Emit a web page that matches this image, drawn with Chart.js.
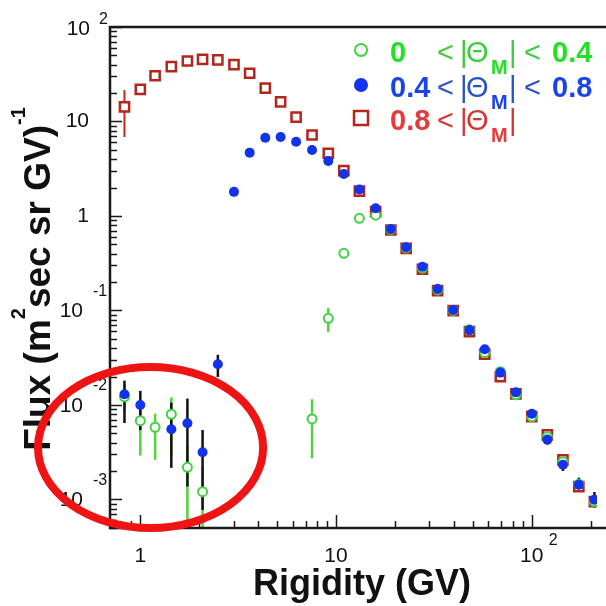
<!DOCTYPE html>
<html>
<head>
<meta charset="utf-8">
<script src="https://cdn.jsdelivr.net/npm/chart.js@4.4.0/dist/chart.umd.min.js"></script>
<style>
  body { margin: 0; background: #fff; }
  #wrap { width: 606px; height: 606px; }
</style>
</head>
<body>
<div id="wrap"><canvas id="fluxChart" width="606" height="606"></canvas></div>
<script>
// rigidity bin centres (GV)
const rigidity = [0.83, 1.00, 1.19, 1.44, 1.74, 2.08, 2.49, 3.01, 3.62, 4.35, 5.21, 6.25, 7.54, 9.13, 10.96,
  13.16, 15.94, 19.06, 22.82, 27.62, 33.03, 39.67, 48.04, 57.51, 69.08, 82.97, 100.0, 120.1, 144.3, 173.9, 208.9];

// 0 < |ThetaM| < 0.4 (green open circles)
const fluxLow = [0.0122, 0.00682, 0.00581, 0.00798, 0.00219, 0.00121, null, null, null, null, null, null, 0.00711, 0.0827, 0.403,
  0.946, 1.02, 0.72, 0.46, 0.28, 0.165, 0.100, 0.0625, 0.036, 0.0225, 0.0128, 0.0075, 0.0046, 0.0025, 0.00145, 0.00095];
const fluxLowErrLo = [0.0085, 0.00291, 0.00263, 0.0030, 0.0002, 0.0002, null, null, null, null, null, null, 0.00272, 0.0593, null,
  null, null, null, null, null, null, null, null, null, null, null, null, null, null, null, null];
const fluxLowErrHi = [0.0165, 0.00962, 0.00811, 0.0120, 0.00378, 0.0022, null, null, null, null, null, null, 0.0115, 0.106, null,
  null, null, null, null, null, null, null, null, null, null, null, null, null, null, null, null];

// 0.4 < |ThetaM| < 0.8 (blue dots)
const fluxMid = [0.0130, 0.0100, null, 0.00553, 0.00640, 0.00316, 0.0270, 1.80, 4.68, 6.74, 6.85, 6.11, 4.99, 3.82, 2.78,
  1.91, 1.21, 0.729, 0.466, 0.290, 0.169, 0.101, 0.0620, 0.0388, 0.0220, 0.0136, 0.00808, 0.00430, 0.00233, 0.00143, 0.000993];
const fluxMidErrLo = [0.00645, 0.00542, null, 0.00216, 0.00137, 0.000776, 0.0198, null, null, null, null, null, null, null, null,
  null, null, null, null, null, null, null, null, null, null, null, 0.0072, 0.0038, 0.0020, 0.0012, 0.00082];
const fluxMidErrHi = [0.0181, 0.0141, null, 0.0106, 0.0117, 0.00543, 0.0340, null, null, null, null, null, null, null, null,
  null, null, null, null, null, null, null, null, null, null, null, 0.0090, 0.0049, 0.0027, 0.0017, 0.0012];

// 0.8 < |ThetaM| (red open squares)
const fluxHigh = [14.3, 21.9, 30.5, 38.0, 43.7, 45.5, 44.8, 39.9, 32.4, 22.5, 16.1, 11.1, 7.20, 4.61, 3.02,
  1.83, 1.11, 0.711, 0.455, 0.273, 0.162, 0.0995, 0.0597, 0.0344, 0.0199, 0.0131, 0.00752, 0.00482, 0.00262, 0.00137, 0.000948];
const fluxHighErrLo = [6.85];
const fluxHighErrHi = [21.5];

// axis ticks
const yTickValues = [100, 10, 1, 0.1, 0.01, 0.001];
const yTickBase = ['10', '10', '1', '10', '10', '10'];
const yTickExp = ['2', '', '', '-1', '-2', '-3'];
const xTickValues = [1, 10, 100];
const xTickBase = ['1', '10', '10'];
const xTickExp = ['', '', '2'];

// the red ring round the low rigidity points (data coords)
const ringX = [0.30, 4.24];
const ringY = [0.000499, 0.0252];

const GREEN = '#3fd43f';
const BLUE = '#1232ec';
const RED = '#b3261c';

function toPoints(vals) {
  return rigidity.map((x, i) => ({ x: x, y: vals[i] })).filter(p => p.y !== null && p.y !== undefined);
}

function drawBars(chart, lo, hi, color, width) {
  const ctx = chart.ctx;
  const xs = chart.scales.x, ys = chart.scales.y;
  ctx.save();
  ctx.strokeStyle = color;
  ctx.lineWidth = width;
  lo.forEach((l, i) => {
    if (l === null || hi[i] === null) return;
    const px = xs.getPixelForValue(rigidity[i]);
    ctx.beginPath();
    ctx.moveTo(px, ys.getPixelForValue(l));
    ctx.lineTo(px, ys.getPixelForValue(hi[i]));
    ctx.stroke();
  });
  ctx.restore();
}

const decor = {
  id: 'decor',
  beforeDatasetsDraw(chart) {
    const a = chart.chartArea;
    const ctx = chart.ctx;
    ctx.save();
    ctx.beginPath();
    ctx.rect(a.left, a.top, a.right - a.left, a.bottom - a.top);
    ctx.clip();
    drawBars(chart, fluxHighErrLo, fluxHighErrHi, '#c0281e', 2);
    drawBars(chart, fluxLowErrLo, fluxLowErrHi, '#4fd63a', 2.5);
    drawBars(chart, fluxMidErrLo, fluxMidErrHi, '#111', 2.5);
    ctx.restore();
  },
  afterDatasetsDraw(chart) {
    const ctx = chart.ctx;
    const a = chart.chartArea;
    const xs = chart.scales.x, ys = chart.scales.y;

    // frame
    ctx.save();
    ctx.strokeStyle = '#1a1a1a';
    ctx.lineWidth = 2.5;
    ctx.beginPath();
    ctx.moveTo(606, a.top);
    ctx.lineTo(a.left, a.top);
    ctx.lineTo(a.left, a.bottom);
    ctx.lineTo(606, a.bottom);
    ctx.stroke();

    // inward ticks
    ctx.lineWidth = 1.5;
    ctx.beginPath();
    for (let e = -4; e <= 2; e++) {
      for (let m = 1; m <= 9; m++) {
        const v = m * Math.pow(10, e);
        if (v >= ys.min * 0.999 && v <= ys.max * 1.001) {
          const py = Math.round(ys.getPixelForValue(v)) + 0.5;
          ctx.moveTo(a.left, py);
          ctx.lineTo(a.left + (m === 1 ? 12 : 7), py);
        }
        if (v >= xs.min && v <= xs.max) {
          const px = Math.round(xs.getPixelForValue(v)) + 0.5;
          ctx.moveTo(px, a.bottom);
          ctx.lineTo(px, a.bottom - (m === 1 ? 13 : 7));
        }
      }
    }
    ctx.stroke();

    // tick labels
    ctx.fillStyle = '#111';
    ctx.textBaseline = 'middle';
    yTickValues.forEach((v, i) => {
      const py = ys.getPixelForValue(v);
      const exp = yTickExp[i];
      ctx.font = '21px "Liberation Sans"';
      ctx.textAlign = 'right';
      if (exp === '') {
        ctx.fillText(yTickBase[i], 89, py);
      } else if (exp.charAt(0) === '-') {
        ctx.fillText(yTickBase[i], 83, py + 1);
        ctx.font = '16px "Liberation Sans"';
        ctx.textAlign = 'left';
        ctx.fillText(exp, 93, py - 19);
      } else {
        ctx.fillText(yTickBase[i], 90, py + 2);
        ctx.font = '16px "Liberation Sans"';
        ctx.textAlign = 'left';
        ctx.fillText(exp, 99, py - 7);
      }
    });
    xTickValues.forEach((v, i) => {
      const px = xs.getPixelForValue(v);
      ctx.font = '21px "Liberation Sans"';
      ctx.textAlign = 'center';
      ctx.fillText(xTickBase[i], px, 556);
      if (xTickExp[i] !== '') {
        ctx.font = '16px "Liberation Sans"';
        ctx.textAlign = 'left';
        ctx.fillText(xTickExp[i], px + 17, 541);
      }
    });

    // axis titles
    ctx.textBaseline = 'alphabetic';
    ctx.textAlign = 'center';
    ctx.font = 'bold 36px "Liberation Sans"';
    ctx.fillText('Rigidity (GV)', 362, 595);

    ctx.save();
    ctx.translate(50, 279);
    ctx.rotate(-Math.PI / 2);
    ctx.textAlign = 'left';
    const parts = [['Flux (m', 37, 0], ['2', 20, -25], ['sec sr GV)', 37, 0], ['-1', 20, -25]];
    let total = 0;
    parts.forEach(p => { ctx.font = 'bold ' + p[1] + 'px "Liberation Sans"'; total += ctx.measureText(p[0]).width; });
    let cx = -total / 2;
    parts.forEach(p => {
      ctx.font = 'bold ' + p[1] + 'px "Liberation Sans"';
      ctx.fillText(p[0], cx, p[2]);
      cx += ctx.measureText(p[0]).width;
    });
    ctx.restore();

    // legend
    const rows = [
      { y: 50, num: '#22e022', sym: '#3ccc3c', a: '0', b: '0.4' },
      { y: 85, num: '#1a44e8', sym: '#2a52c8', a: '0.4', b: '0.8' },
      { y: 118, num: '#e83a3a', sym: '#d83434', a: '0.8', b: '' }
    ];
    // markers
    ctx.lineWidth = 2;
    ctx.strokeStyle = GREEN;
    ctx.beginPath(); ctx.arc(361, rows[0].y, 6, 0, Math.PI * 2); ctx.stroke();
    ctx.fillStyle = BLUE;
    ctx.beginPath(); ctx.arc(361, rows[1].y, 7, 0, Math.PI * 2); ctx.fill();
    ctx.strokeStyle = RED; ctx.lineWidth = 2.5;
    ctx.strokeRect(354, rows[2].y - 7, 14, 14);

    rows.forEach(r => {
      const base = r.y + 12;
      ctx.textAlign = 'left';
      ctx.fillStyle = r.num;
      ctx.font = 'bold 29px "Liberation Sans"';
      ctx.fillText(r.a, 390, base);
      ctx.fillStyle = r.sym;
      ctx.font = '29px "Liberation Sans"';
      ctx.fillText('<', 437, base);
      ctx.fillText('|', 460, base);
      ctx.fillText('\u0398', 466, base);
      ctx.fillText('|', 509, base);
      ctx.fillStyle = r.num;
      ctx.font = 'bold 20px "Liberation Sans"';
      ctx.fillText('M', 491, base + 12);
      if (r.b !== '') {
        ctx.fillStyle = r.sym;
        ctx.font = '29px "Liberation Sans"';
        ctx.fillText('<', 524, base);
        ctx.fillStyle = r.num;
        ctx.font = 'bold 29px "Liberation Sans"';
        ctx.fillText(r.b, 552, base);
      }
    });

    // red ring
    const x0 = xs.getPixelForValue(ringX[0]), x1 = xs.getPixelForValue(ringX[1]);
    const y0 = ys.getPixelForValue(ringY[0]), y1 = ys.getPixelForValue(ringY[1]);
    ctx.strokeStyle = '#ee1414';
    ctx.lineWidth = 8;
    ctx.beginPath();
    ctx.ellipse((x0 + x1) / 2, (y0 + y1) / 2, Math.abs(x1 - x0) / 2, Math.abs(y0 - y1) / 2, 0, 0, Math.PI * 2);
    ctx.stroke();
    ctx.restore();
  }
};

new Chart(document.getElementById('fluxChart'), {
  type: 'scatter',
  data: {
    datasets: [
      {
        label: '0.4 < |ThetaM| < 0.8',
        data: toPoints(fluxMid),
        pointStyle: 'circle',
        pointRadius: 5,
        backgroundColor: BLUE,
        borderColor: BLUE,
        borderWidth: 0
      },
      {
        label: '0 < |ThetaM| < 0.4',
        data: toPoints(fluxLow),
        pointStyle: 'circle',
        pointRadius: 4.5,
        backgroundColor: '#fff',
        borderColor: GREEN,
        borderWidth: 2
      },
      {
        label: '0.8 < |ThetaM|',
        data: toPoints(fluxHigh),
        pointStyle: 'rect',
        pointRadius: 6.5,
        backgroundColor: '#fff',
        borderColor: RED,
        borderWidth: 2.5
      }
    ]
  },
  options: {
    responsive: false,
    animation: false,
    events: [],
    layout: { padding: { left: 110, top: 27, right: 0, bottom: 78 } },
    plugins: { legend: { display: false }, tooltip: { enabled: false } },
    scales: {
      x: { type: 'logarithmic', min: 0.734, max: 215.4, display: false },
      y: { type: 'logarithmic', min: 0.000499, max: 100, display: false }
    }
  },
  plugins: [decor]
});
</script>
</body>
</html>
